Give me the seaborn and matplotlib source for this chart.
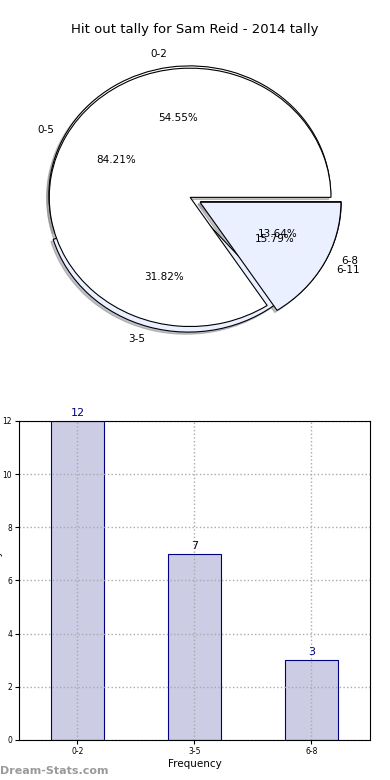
import matplotlib
matplotlib.use("Agg")
import matplotlib.pyplot as plt
import seaborn as sns
import pandas as pd

title = "Hit out tally for Sam Reid - 2014 tally"
pie_a_labels = ["0-2", "3-5", "6-8"]
pie_a_values = [12, 7, 3]
pie_b_labels = ["0-5", "6-11"]
pie_b_values = [16, 3]
bar_categories = ["0-2", "3-5", "6-8"]
bar_values = [12, 7, 3]
y_ticks = [0, 2, 4, 6, 8, 10, 12]

fig = plt.figure(figsize=(3.9, 7.8), dpi=100)
fig.text(0.5, 1 - 30 / 780, title, ha="center", va="center", fontsize=9.5)

# Pie charts
ax1 = fig.add_axes([0.036, 0.540, 0.903, 0.414])
wp = dict(edgecolor="black", linewidth=0.8)
shadow = dict(ox=-0.012, oy=-0.012, shade=0.45)
ax1.pie(pie_a_values, labels=pie_a_labels, autopct="%1.2f%%",
        explode=(0.018, 0.045, 0.08), colors=["white", "#eaf0ff", "white"],
        shadow=shadow, wedgeprops=wp, textprops=dict(fontsize=7.5))
ax1.pie(pie_b_values, labels=pie_b_labels, autopct="%1.2f%%",
        explode=(0, 0.08), colors=["white", "#eaf0ff"],
        shadow=shadow, wedgeprops=wp, textprops=dict(fontsize=7.5))
ax1.set_aspect("auto")
ax1.set_xlim(-1.25, 1.25)
ax1.set_ylim(-1.25, 1.25)
ax1.axis("off")

# Bar chart
ax2 = fig.add_axes([0.0487, 0.0513, 0.9, 0.409])
df = pd.DataFrame({"range": bar_categories, "count": bar_values})
sns.barplot(data=df, x="range", y="count", ax=ax2, width=0.45,
            color="#ccccE4", edgecolor="#000080", linewidth=0.8, saturation=1)
ax2.set_xlim(-0.5, 2.5)
ax2.set_ylim(0, 12)
ax2.set_yticks(y_ticks)
ax2.grid(True, linestyle=":", color="#aaaaaa", linewidth=1)
ax2.set_axisbelow(False)
ax2.tick_params(labelsize=5.5, length=3, direction="out", pad=2)
for s in ax2.spines.values():
    s.set_color("black")
    s.set_linewidth(0.8)
    s.set_zorder(5)
label_colors = ["#000080", "#000020", "#000080"]
for i, v in enumerate(bar_values):
    ax2.text(i, v + 0.12, str(v), ha="center", va="bottom", fontsize=8,
             color=label_colors[i], clip_on=False)
ax2.set_xlabel("Frequency", fontsize=7.5, labelpad=2)
ax2.set_ylabel("")
fig.text(-0.004, 1 - 580 / 780, "Hit Out Tally", rotation=90, ha="center",
         va="center", fontsize=7)

fig.text(0.0, 1 - 771 / 780, "Dream-Stats.com", color="#9a9a9a", fontsize=8,
         fontweight="bold", va="center", ha="left")

fig.savefig("out.png", dpi=100)
